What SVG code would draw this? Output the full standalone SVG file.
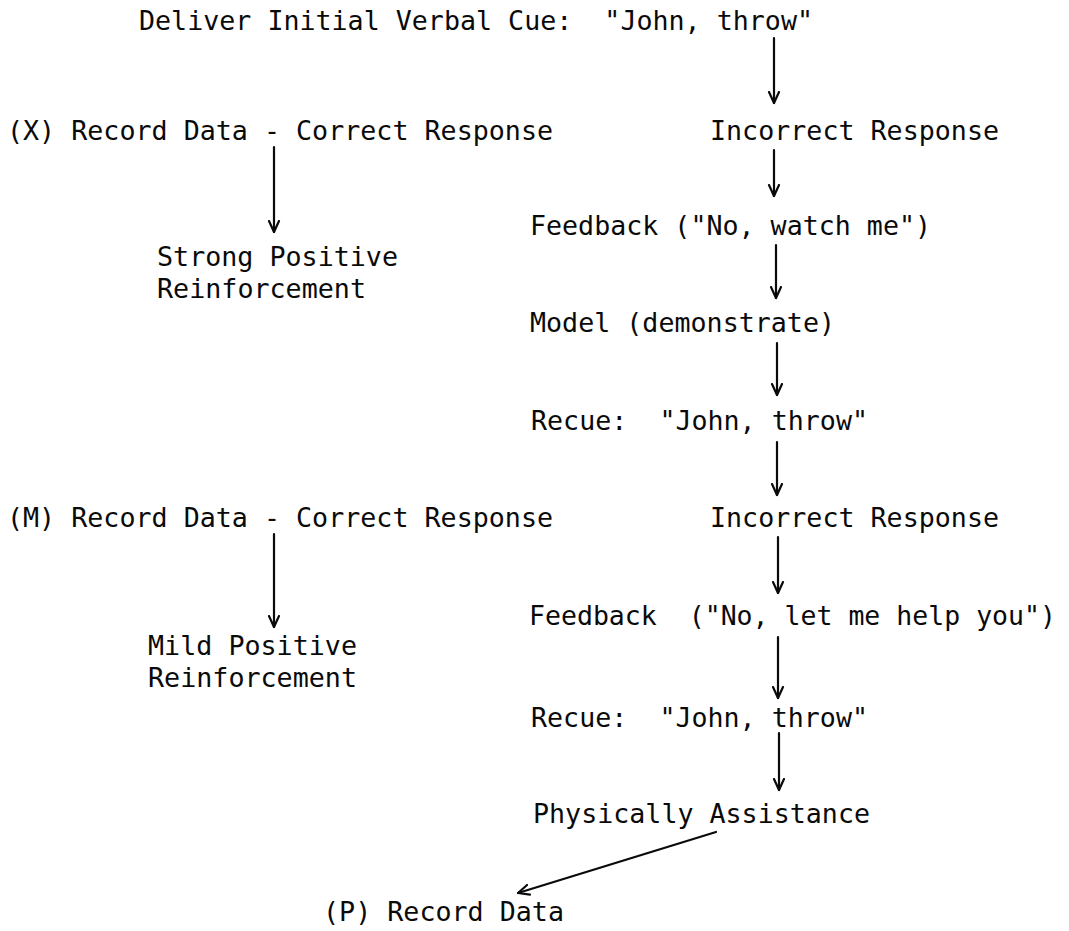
<svg xmlns="http://www.w3.org/2000/svg" width="1069" height="931" viewBox="0 0 1069 931" xml:space="preserve">
<defs>
<style>
text{font-family:"DejaVu Sans Mono","Liberation Mono",monospace;font-size:26.5px;fill:#0a0a0a;white-space:pre}
.c{fill:none;stroke:#0a0a0a;stroke-width:2.2;stroke-linecap:round}
</style>
<marker id="ah" viewBox="0 0 14 14" refX="12" refY="7" markerWidth="14" markerHeight="14" markerUnits="userSpaceOnUse" orient="auto">
<path d="M1,2 L12,7 L1,12" fill="none" stroke="#0a0a0a" stroke-width="2.2" stroke-linejoin="round" stroke-linecap="round"/>
</marker>
</defs>
<rect width="1069" height="931" fill="#fff"/>
<g id="n-cue"><text x="139" y="30" textLength="674" lengthAdjust="spacingAndGlyphs">Deliver Initial Verbal Cue:  "John, throw"</text></g>
<g id="n-x-record"><text x="7" y="140" textLength="546" lengthAdjust="spacingAndGlyphs">(X) Record Data - Correct Response</text></g>
<g id="n-incorrect1"><text x="710" y="140" textLength="289" lengthAdjust="spacingAndGlyphs">Incorrect Response</text></g>
<g id="n-feedback1"><text x="530" y="235" textLength="401" lengthAdjust="spacingAndGlyphs">Feedback ("No, watch me")</text></g>
<g id="n-strong"><text x="157" y="266" textLength="241" lengthAdjust="spacingAndGlyphs">Strong Positive</text><text x="157" y="298" textLength="209" lengthAdjust="spacingAndGlyphs">Reinforcement</text></g>
<g id="n-model"><text x="530" y="332" textLength="305" lengthAdjust="spacingAndGlyphs">Model (demonstrate)</text></g>
<g id="n-recue1"><text x="531" y="430" textLength="337" lengthAdjust="spacingAndGlyphs">Recue:  "John, throw"</text></g>
<g id="n-m-record"><text x="7" y="527" textLength="546" lengthAdjust="spacingAndGlyphs">(M) Record Data - Correct Response</text></g>
<g id="n-incorrect2"><text x="710" y="527" textLength="289" lengthAdjust="spacingAndGlyphs">Incorrect Response</text></g>
<g id="n-feedback2"><text x="529" y="625" textLength="527" lengthAdjust="spacingAndGlyphs">Feedback  ("No, let me help you")</text></g>
<g id="n-mild"><text x="148" y="655" textLength="209" lengthAdjust="spacingAndGlyphs">Mild Positive</text><text x="148" y="687" textLength="209" lengthAdjust="spacingAndGlyphs">Reinforcement</text></g>
<g id="n-recue2"><text x="531" y="727" textLength="337" lengthAdjust="spacingAndGlyphs">Recue:  "John, throw"</text></g>
<g id="n-physical"><text x="533" y="823" textLength="337" lengthAdjust="spacingAndGlyphs">Physically Assistance</text></g>
<g id="n-p-record"><text x="323" y="921" textLength="241" lengthAdjust="spacingAndGlyphs">(P) Record Data</text></g>
<g id="connectors">
<line class="c" x1="774" y1="38" x2="774" y2="103" marker-end="url(#ah)"/>
<line class="c" x1="774" y1="150" x2="774" y2="196" marker-end="url(#ah)"/>
<line class="c" x1="274" y1="147" x2="274" y2="232" marker-end="url(#ah)"/>
<line class="c" x1="776" y1="245" x2="776" y2="298" marker-end="url(#ah)"/>
<line class="c" x1="777" y1="343" x2="777" y2="395" marker-end="url(#ah)"/>
<line class="c" x1="777" y1="442" x2="777" y2="495" marker-end="url(#ah)"/>
<line class="c" x1="274" y1="534" x2="274" y2="627" marker-end="url(#ah)"/>
<line class="c" x1="778" y1="537" x2="778" y2="593" marker-end="url(#ah)"/>
<line class="c" x1="778" y1="637" x2="778" y2="698" marker-end="url(#ah)"/>
<line class="c" x1="779" y1="733" x2="779" y2="790" marker-end="url(#ah)"/>
<line class="c" x1="716" y1="832" x2="518" y2="893" marker-end="url(#ah)"/>
</g>
</svg>
